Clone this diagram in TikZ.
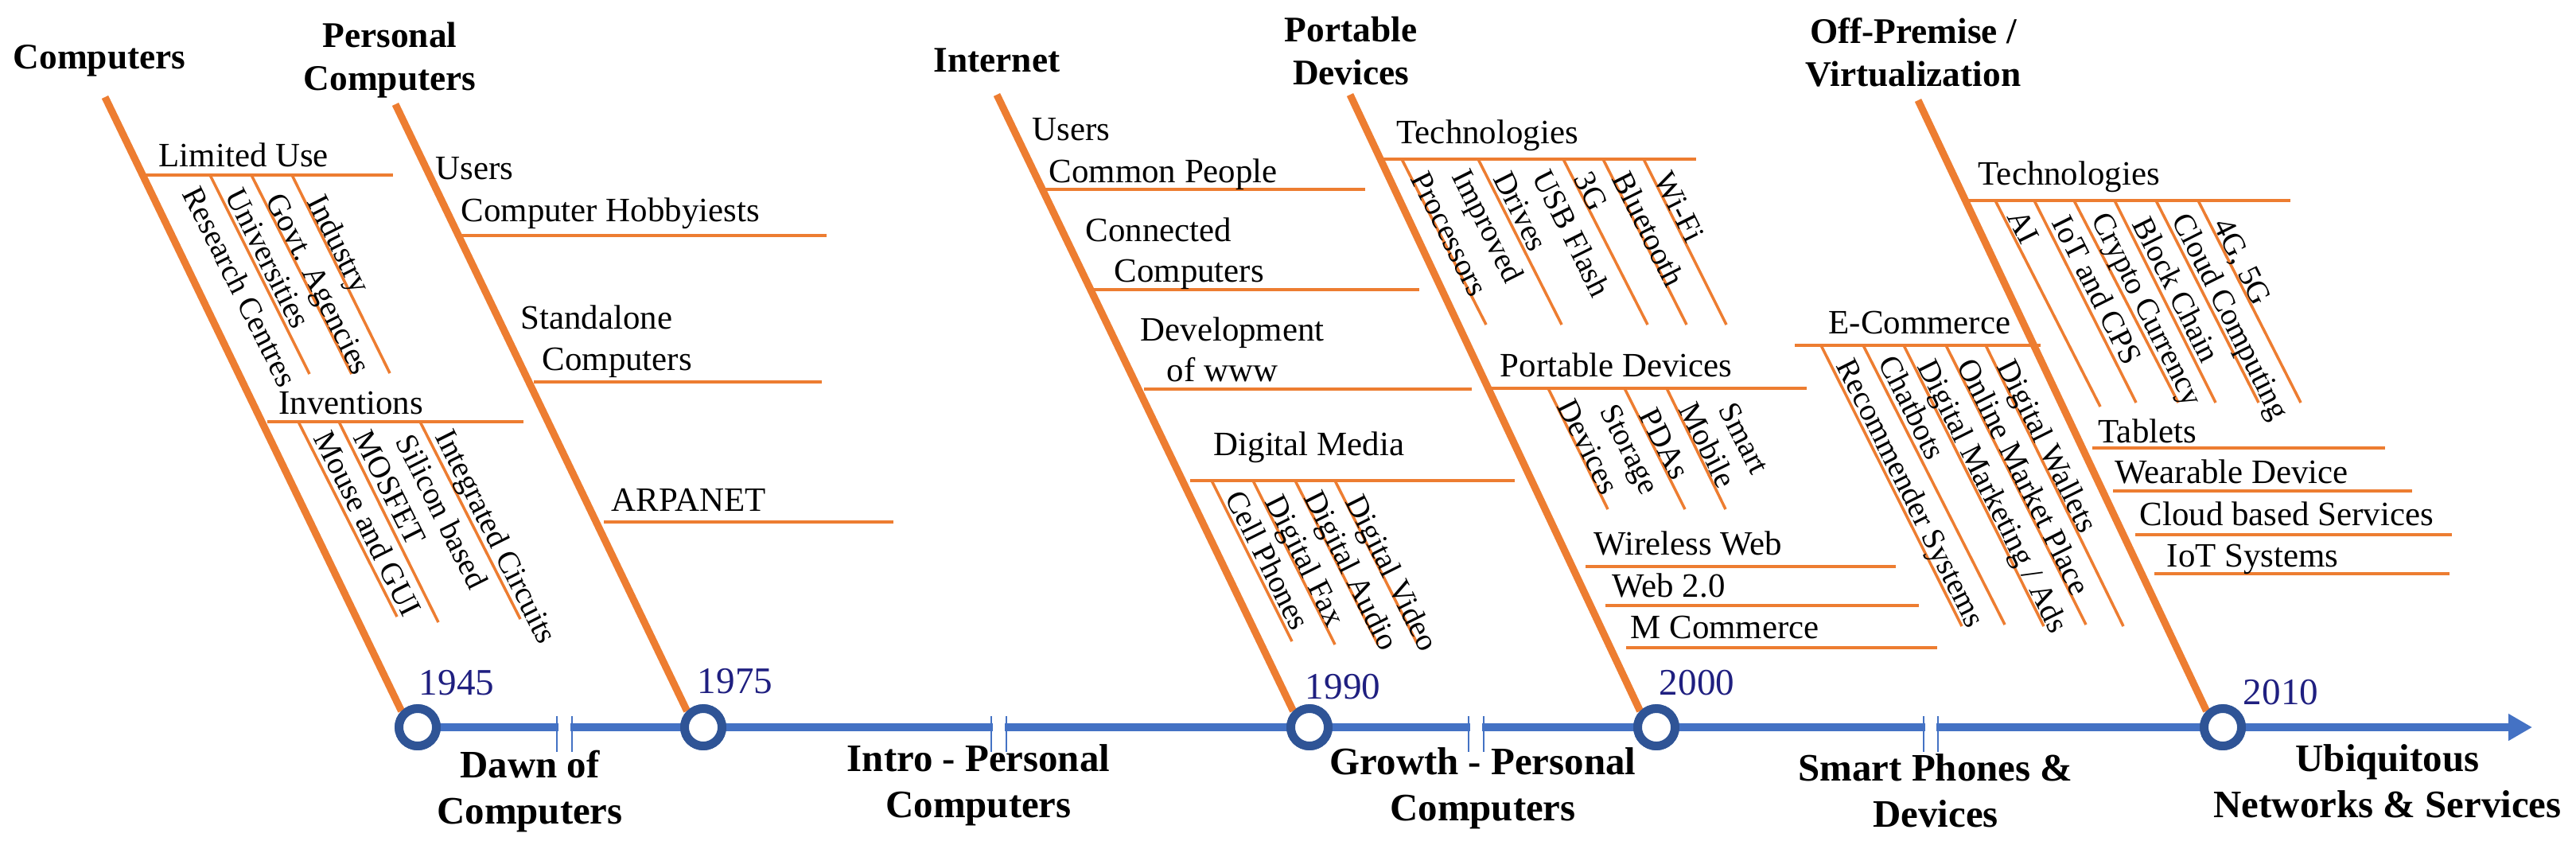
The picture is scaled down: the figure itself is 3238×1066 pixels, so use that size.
\documentclass[tikz,border=0pt]{standalone}
\usepackage{fontspec}
\setmainfont{Liberation Serif}
\usetikzlibrary{arrows.meta}
\definecolor{orng}{HTML}{ED7D31}
\definecolor{tblue}{HTML}{4472C4}
\definecolor{cblue}{HTML}{2F5496}
\definecolor{navy}{HTML}{1F1F80}
\tikzset{
 spine/.style={draw=orng,line width=2.6pt},
 rib/.style={draw=orng,line width=1.4pt},
 sub/.style={draw=orng,line width=1pt},
 lbl/.style={font=\fontsize{12.2}{14}\selectfont,inner sep=0pt,anchor=base west},
 rl/.style={font=\fontsize{11.2}{13}\selectfont,inner sep=0pt,anchor=base west,rotate=-63.43,yshift=-1.2mm,xshift=0.5mm},
 ttl/.style={font=\fontsize{12.9}{15.4}\selectfont\bfseries,align=center,inner sep=0pt},
 era/.style={font=\fontsize{13.9}{16.5}\selectfont\bfseries,align=center,inner sep=0pt},
 yr/.style={font=\fontsize{13.4}{15}\selectfont,text=navy,inner sep=0pt},
 yc/.style={circle,draw=cblue,line width=3.1pt,fill=white,minimum size=4.7mm,inner sep=0pt},
 brk/.style={draw=tblue,line width=0.8pt}
}
\begin{document}
\begin{tikzpicture}[x=0.1mm,y=-0.1mm]
\useasboundingbox (0,0) rectangle (3238,1066);
% timeline
\coordinate (tstart) at (525,914);
\coordinate (tend) at (3183,914);
\draw[tblue,line width=3.1pt,-{Triangle[length=3mm,width=3.2mm]}] (tstart) -- (tend);
\foreach \a/\b in {700/719,1246/1265,1846/1865,2418/2436}{
 \fill[white] (\a+2,900) rectangle (\b-2,928);
 \draw[brk] (\a,900) -- (\a,945);
 \draw[brk] (\b,900) -- (\b,945);
}
% spines
\coordinate (s1) at (132,122);
\coordinate (s2) at (497,131);
\coordinate (s3) at (1253,119);
\coordinate (s4) at (1697,119);
\coordinate (s5) at (2411,126);
\node[yc] (c1) at (525,914) {};
\node[yc] (c2) at (884,914) {};
\node[yc] (c3) at (1646,914) {};
\node[yc] (c4) at (2082,914) {};
\node[yc] (c5) at (2794,914) {};
\draw[spine] (s1) -- (c1.north west);
\draw[spine] (s2) -- (c2.north west);
\draw[spine] (s3) -- (c3.north west);
\draw[spine] (s4) -- (c4.north west);
\draw[spine] (s5) -- (c5.north west);
\node[yc] at (c1) {};
\node[yc] at (c2) {};
\node[yc] at (c3) {};
\node[yc] at (c4) {};
\node[yc] at (c5) {};
% years
\node[yr] (y1) at (574,858) {1945};
\node[yr] (y2) at (924,856) {1975};
\node[yr] (y3) at (1688,863) {1990};
\node[yr] (y4) at (2133,858) {2000};
\node[yr] (y5) at (2867,870) {2010};
% eras
\node[era] (e1) at (666,994) {Dawn of\\Computers};
\node[era] (e2) at (1230,987) {Intro - Personal\\Computers};
\node[era] (e3) at (1864,991) {Growth - Personal\\Computers};
\node[era] (e4) at (2433,994) {Smart Phones \&\\Devices};
\node[era] (e5) at (3001,982) {Ubiquitous\\Networks \& Services};
% titles
\node[ttl] (t1) at (125,76) {Computers};
\node[ttl] (t2) at (490,76) {Personal\\Computers};
\node[ttl] (t3) at (1253,76) {Internet};
\node[ttl] (t4) at (1698,64) {Portable\\Devices};
\node[ttl] (t5) at (2405,66) {Off-Premise /\\Virtualization};
% ---- Computers
\draw[rib] (181,220) -- (494,220);
\node[lbl] at (199,209) {Limited Use};
\draw[sub] (264,220) -- (389,470);
\draw[sub] (316,220) -- (442,470);
\draw[sub] (367,220) -- (490,469);
\node[rl] at (237,233) {Research Centres};
\node[rl] at (291,235) {Universities};
\node[rl] at (342,241) {Govt. Agencies};
\node[rl] at (394,243) {Industry};
\draw[rib] (336,530) -- (658,530);
\node[lbl] at (350,520) {Inventions};
\draw[sub] (375,530) -- (499,775);
\draw[sub] (426,530) -- (551,782);
\draw[sub] (528,530) -- (654,778);
\node[rl] at (402,540) {Mouse and GUI};
\node[rl] at (452,539) {MOSFET};
\node[rl] at (505,544) {Silicon based};
\node[rl] at (555,538) {Integrated Circuits};
% ---- Personal Computers
\draw[rib] (579,296) -- (1039,296);
\node[lbl] at (547,225) {Users};
\node[lbl] at (579,278) {Computer Hobbyiests};
\draw[rib] (671,480) -- (1033,480);
\node[lbl] at (654,413) {Standalone};
\node[lbl] at (681,465) {Computers};
\draw[rib] (759,656) -- (1123,656);
\node[lbl] at (768,642) {ARPANET};
% ---- Internet
\draw[rib] (1313,238) -- (1716,238);
\node[lbl] at (1297,176) {Users};
\node[lbl] at (1318,229) {Common People};
\draw[rib] (1375,364) -- (1784,364);
\node[lbl] at (1364,303) {Connected};
\node[lbl] at (1400,354) {Computers};
\draw[rib] (1438,489) -- (1850,489);
\node[lbl] at (1433,428) {Development};
\node[lbl] at (1466,479) {of www};
\draw[rib] (1496,604) -- (1904,604);
\node[lbl] at (1525,572) {Digital Media};
\draw[sub] (1523,604) -- (1624,806);
\draw[sub] (1575,604) -- (1678,810);
\draw[sub] (1628,604) -- (1732,810);
\draw[sub] (1678,604) -- (1781,808);
\node[rl] at (1548,615) {Cell Phones};
\node[rl] at (1598,620) {Digital Fax};
\node[rl] at (1647,615) {Digital Audio};
\node[rl] at (1699,620) {Digital Video};
% ---- Portable Devices
\draw[rib] (1737,200) -- (2132,200);
\node[lbl] at (1755,180) {Technologies};
\draw[sub] (1762,200) -- (1868,408);
\draw[sub] (1858,200) -- (1963,408);
\draw[sub] (1965,200) -- (2071,408);
\draw[sub] (2015,200) -- (2120,408);
\draw[sub] (2066,200) -- (2170,408);
\node[rl] at (1781,214) {Processors};
\node[rl] at (1833,211) {Improved};
\node[rl] at (1885,214) {Drives};
\node[rl] at (1934,212) {USB Flash};
\node[rl] at (1986,214) {3G};
\node[rl] at (2034,214) {Bluetooth};
\node[rl] at (2087,214) {Wi-Fi};
\draw[rib] (1871,488) -- (2271,488);
\node[lbl] at (1885,473) {Portable Devices};
\draw[sub] (1946,488) -- (2021,640);
\draw[sub] (2042,488) -- (2118,640);
\draw[sub] (2095,488) -- (2169,640);
\node[rl] at (1965,500) {Devices};
\node[rl] at (2019,506) {Storage};
\node[rl] at (2068,511) {PDAs};
\node[rl] at (2118,504) {Mobile};
\node[rl] at (2168,504) {Smart};
\draw[rib] (1993,712) -- (2383,712);
\node[lbl] at (2003,697) {Wireless Web};
\draw[rib] (2018,761) -- (2412,761);
\node[lbl] at (2026,750) {Web 2.0};
\draw[rib] (2044,814) -- (2435,814);
\node[lbl] at (2049,802) {M Commerce};
% ---- Off-Premise
\draw[rib] (2474,252) -- (2879,252);
\node[lbl] at (2486,232) {Technologies};
\draw[sub] (2508,252) -- (2640,511);
\draw[sub] (2557,252) -- (2685,506);
\draw[sub] (2607,252) -- (2738,506);
\draw[sub] (2658,252) -- (2785,506);
\draw[sub] (2710,252) -- (2839,506);
\draw[sub] (2763,252) -- (2892,506);
\node[rl] at (2531,262) {AI};
\node[rl] at (2587,269) {IoT and CPS};
\node[rl] at (2637,265) {Crypto Currency};
\node[rl] at (2688,271) {Block Chain};
\node[rl] at (2738,266) {Cloud Computing};
\node[rl] at (2790,272) {4G, 5G};
\draw[rib] (2256,434) -- (2565,434);
\node[lbl] at (2298,419) {E-Commerce};
\draw[sub] (2289,434) -- (2466,787);
\draw[sub] (2342,434) -- (2520,785);
\draw[sub] (2393,434) -- (2569,787);
\draw[sub] (2446,434) -- (2622,785);
\draw[sub] (2496,434) -- (2669,787);
\node[rl] at (2316,449) {Recommender Systems};
\node[rl] at (2369,445) {Chatbots};
\node[rl] at (2418,450) {Digital Marketing / Ads};
\node[rl] at (2468,449) {Online Market Place};
\node[rl] at (2518,450) {Digital Wallets};
\draw[rib] (2630,563) -- (2998,563);
\node[lbl] at (2637,556) {Tablets};
\draw[rib] (2656,617) -- (3032,617);
\node[lbl] at (2658,607) {Wearable Device};
\draw[rib] (2684,672) -- (3082,672);
\node[lbl] at (2689,660) {Cloud based Services};
\draw[rib] (2708,721) -- (3079,721);
\node[lbl] at (2723,712) {IoT Systems};
\end{tikzpicture}
\end{document}
